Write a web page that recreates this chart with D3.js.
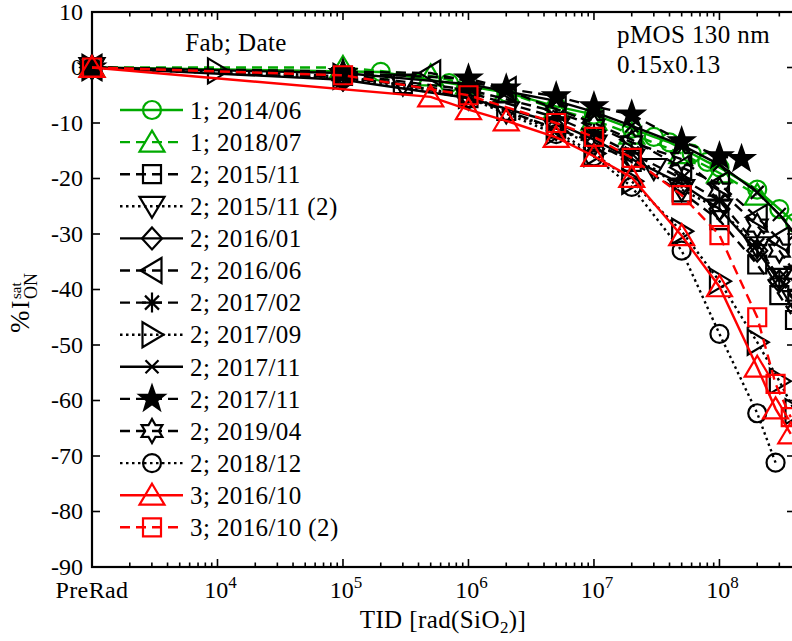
<!DOCTYPE html>
<html>
<head>
<meta charset="utf-8">
<script src="https://cdn.jsdelivr.net/npm/d3@7"></script>
<style>
  body { margin: 0; background: #fff; }
  text { font-family: "Liberation Serif", "DejaVu Serif", serif; fill: #000; }
</style>
</head>
<body>
<div id="chart"></div>
<script>
// PreRad is drawn at the 1e3 position of the log axis
const PRE = 1e3;

const xTickVals = [PRE, 1e4, 1e5, 1e6, 1e7, 1e8];
const xTickLabels = ["PreRad", "4", "5", "6", "7", "8"];
const yTickVals = [10, 0, -10, -20, -30, -40, -50, -60, -70, -80, -90];

const labels = ["1; 2014/06", "1; 2018/07", "2; 2015/11", "2; 2015/11 (2)", "2; 2016/01",
  "2; 2016/06", "2; 2017/02", "2; 2017/09", "2; 2017/11", "2; 2017/11", "2; 2019/04",
  "2; 2018/12", "3; 2016/10", "3; 2016/10 (2)"];
const colors = ["#00aa00", "#00aa00", "#000", "#000", "#000", "#000", "#000", "#000",
  "#000", "#000", "#000", "#000", "#ff0000", "#ff0000"];
const dashes = ["solid", "dash", "dash", "dot", "solid", "dash", "dash", "dot",
  "solid", "dash", "dash", "dot", "solid", "dash"];
const symbols = ["o", "^", "s", "v", "d", "<", "*", ">", "x", "p", "h", "o", "^", "s"];

// dose [rad(SiO2)] and %I_ON^sat for each run
const dose0 = [PRE, 2e5, 7e5, 2e6, 5e6, 1e7, 2e7, 3e7, 4e7, 6e7, 8e7, 1e8, 2e8, 3e8, 4e8];
const val0 = [0, -0.8, -2.8, -4.5, -7, -8.5, -11, -12.5, -13.5, -15.5, -17, -18, -22, -25.5, -28];
const dose1 = [PRE, 1e5, 5e5, 1e6, 2e6, 5e6, 1e7, 2e7, 5e7, 1e8, 2e8];
const val1 = [0, 0, -1.5, -3, -4.5, -7.5, -9.5, -12, -15.5, -19, -23];
const dose2 = [PRE, 1e5, 3e5, 1e6, 2e6, 5e6, 1e7, 2e7, 5e7, 1e8, 2e8, 3e8, 4e8];
const val2 = [0, -1.5, -3, -5.5, -7.8, -11, -13.5, -17, -22.5, -27.5, -35.5, -41, -45.5];
const dose3 = [PRE, 1e5, 3e5, 1e6, 2e6, 5e6, 1e7, 2e7, 3e7, 5e7, 1e8, 2e8, 3e8, 4e8];
const val3 = [0, -2, -3, -5.5, -8, -11, -14, -16.5, -18.2, -22, -25.5, -32.3, -38, -42];
const dose4 = [PRE, 1e5, 1e6, 5e6, 1e7, 2e7, 5e7, 1e8, 2e8, 3e8];
const val4 = [0, -2.2, -5.5, -10, -13, -16.5, -21, -25.5, -33, -38.5];
const dose5 = [PRE, 5e5, 2e6, 5e6, 1e7, 2e7, 5e7, 1e8, 2e8, 3e8];
const val5 = [0, -1, -4, -7.5, -10, -13, -18, -21, -27, -31];
const dose6 = [PRE, 1e5, 1e6, 5e6, 1e7, 2e7, 5e7, 1e8, 2e8, 3e8, 4e8];
const val6 = [0, -1.8, -4.5, -9, -12, -15.5, -20, -24, -32, -38, -42];
const dose7 = [PRE, 1e4, 1e5, 1e6, 5e6, 1e7, 2e7, 5e7, 1e8, 2e8, 3e8, 4e8];
const val7 = [0, -0.6, -1.6, -5, -11.5, -15.5, -20.5, -29.5, -38.5, -49.5, -56.5, -62];
const dose8 = [PRE, 1e5, 1e6, 5e6, 1e7, 2e7, 5e7, 1e8, 2e8, 3e8, 4e8];
const val8 = [0, -1, -3, -6, -8, -10.5, -14, -17.5, -22.5, -26.5, -30];
const dose9 = [PRE, 1e5, 1e6, 2e6, 5e6, 1e7, 2e7, 5e7, 1e8, 1.5e8];
const val9 = [0, -1, -2, -3.8, -5.2, -7, -8.5, -13.3, -16, -16.5];
const dose10 = [PRE, 1e5, 1e6, 5e6, 1e7, 2e7, 5e7, 1e8, 2e8, 3e8, 4e8];
const val10 = [0, -1.2, -4, -8, -10.5, -13.5, -16.5, -22, -28.5, -33, -37];
const dose11 = [PRE, 1e5, 1e6, 5e6, 1e7, 2e7, 5e7, 1e8, 2e8, 2.8e8];
const val11 = [0, -2, -5.5, -12, -16, -21.5, -33, -48, -62.3, -71.2];
const dose12 = [PRE, 5e5, 1e6, 2e6, 5e6, 1e7, 2e7, 5e7, 1e8, 2e8, 2.8e8, 3.7e8];
const val12 = [0, -5.3, -7.6, -9.6, -12.6, -16, -19.8, -30.3, -39.5, -54, -61.5, -66];
const dose13 = [PRE, 1e5, 1e6, 5e6, 1e7, 2e7, 5e7, 1e8, 2e8, 2.8e8, 3.7e8];
const val13 = [0, -1.4, -5, -10, -12.5, -16.3, -23, -30.2, -45, -57, -63];

const doses = [dose0, dose1, dose2, dose3, dose4, dose5, dose6, dose7, dose8, dose9, dose10, dose11, dose12, dose13];
const vals = [val0, val1, val2, val3, val4, val5, val6, val7, val8, val9, val10, val11, val12, val13];

const W = 792, H = 641;
const margin = {top: 12, right: -3, bottom: 74, left: 92};
const width = W - margin.left - margin.right;
const height = H - margin.top - margin.bottom;

const svg = d3.select("#chart").append("svg")
    .attr("width", W).attr("height", H)
    .style("display", "block");
const g = svg.append("g")
    .attr("transform", "translate(" + margin.left + "," + margin.top + ")");

const x = d3.scaleLog().domain([PRE, 4e8]).range([0, width]);
const y = d3.scaleLinear().domain([-90, 10]).range([height, 0]);

const dashArr = {solid: null, dash: "10,6", dot: "2.5,3.5"};
const FS = "25px", LS = "0.4px";

function poly(pts) {
    return "M" + pts.map(p => p[0] + "," + p[1]).join("L") + "Z";
}
function starPath(n, ro, ri) {
    const pts = [];
    for (let i = 0; i < 2 * n; i++) {
        const a = -Math.PI / 2 + i * Math.PI / n;
        const r = i % 2 ? ri : ro;
        pts.push([r * Math.cos(a), r * Math.sin(a)]);
    }
    return poly(pts);
}
const markers = {
    "o": d3.symbol(d3.symbolCircle, Math.PI * 81)(),
    "^": poly([[0, -11.5], [12.5, 9.5], [-12.5, 9.5]]),
    "v": poly([[0, 11.5], [12.5, -9.5], [-12.5, -9.5]]),
    "<": poly([[-11.5, 0], [9.5, -12.5], [9.5, 12.5]]),
    ">": poly([[11.5, 0], [-9.5, -12.5], [-9.5, 12.5]]),
    "s": poly([[-9, -9], [9, -9], [9, 9], [-9, 9]]),
    "d": poly([[0, -11], [10, 0], [0, 11], [-10, 0]]),
    "p": starPath(5, 13, 5.2),
    "h": starPath(6, 12, 6.9),
    "*": "M-10,0L10,0M0,-10L0,10M-7,-7L7,7M-7,7L7,-7",
    "x": "M-6.5,-6.5L6.5,6.5M-6.5,6.5L6.5,-6.5"
};

// axes: ticks point inward on all four sides
const minorX = [];
for (let e = 3; e < 9; e++) {
    for (let m = 2; m <= 9; m++) {
        const v = m * Math.pow(10, e);
        if (v <= 4e8) minorX.push(v);
    }
}
const axisG = g.append("g").attr("stroke", "#000").attr("stroke-width", 1.6);
[0, height].forEach(function(yy) {
    const dir = yy === 0 ? 1 : -1;
    axisG.selectAll(null).data(xTickVals.slice(1)).enter().append("line")
        .attr("x1", d => x(d)).attr("x2", d => x(d))
        .attr("y1", yy).attr("y2", yy + dir * 8);
    axisG.selectAll(null).data(minorX).enter().append("line")
        .attr("x1", d => x(d)).attr("x2", d => x(d))
        .attr("y1", yy).attr("y2", yy + dir * 4.5);
});
[0, width].forEach(function(xx) {
    const dir = xx === 0 ? 1 : -1;
    axisG.selectAll(null).data(yTickVals).enter().append("line")
        .attr("y1", d => y(d)).attr("y2", d => y(d))
        .attr("x1", xx).attr("x2", xx + dir * 8);
});
axisG.append("rect").attr("x", 0).attr("y", 0).attr("width", width).attr("height", height)
    .attr("fill", "none").attr("stroke-width", 2.2);

// tick labels
g.selectAll(".ylab").data(yTickVals).enter().append("text")
    .attr("x", -9).attr("y", d => y(d)).attr("dy", "0.33em")
    .attr("text-anchor", "end").style("font-size", "24px")
    .text(d => d);
const xl = g.selectAll(".xlab").data(xTickVals).enter().append("text")
    .attr("x", (d, i) => x(d) + (i ? 3 : 0)).attr("y", height + 31)
    .attr("text-anchor", "middle").style("font-size", "24px");
xl.each(function(d, i) {
    const t = d3.select(this);
    if (i === 0) { t.style("letter-spacing", LS).text(xTickLabels[i]); return; }
    t.append("tspan").text("10");
    t.append("tspan").attr("dy", -10).style("font-size", "17px").text(xTickLabels[i]);
});

// axis titles
const xt = g.append("text").attr("x", 443 - margin.left).attr("y", 628 - margin.top)
    .attr("text-anchor", "middle").style("font-size", FS).style("letter-spacing", LS);
xt.append("tspan").text("TID [rad(SiO");
xt.append("tspan").attr("dy", 5).style("font-size", "17px").text("2");
xt.append("tspan").attr("dy", -5).text(")]");

const yt = svg.append("g").attr("transform", "translate(29,333) rotate(-90)");
yt.append("text").attr("x", 0).attr("y", 0).style("font-size", "27px").text("%");
yt.append("text").attr("x", 24).attr("y", 0).style("font-size", "25px").text("I");
yt.append("text").attr("x", 34).attr("y", -8).style("font-size", "15px").text("sat");
yt.append("text").attr("x", 34).attr("y", 8).style("font-size", "18px").text("ON");

// series
const line = d3.line().x(d => x(d[0])).y(d => y(d[1]));
for (let i = 0; i < labels.length; i++) {
    const pts = doses[i].map((d, j) => [d, vals[i][j]]);
    const sg = g.append("g");
    sg.append("path").datum(pts)
        .attr("d", line)
        .attr("fill", "none")
        .attr("stroke", colors[i])
        .attr("stroke-width", 2.4)
        .attr("stroke-dasharray", dashArr[dashes[i]]);
    sg.selectAll("path.mk").data(pts).enter().append("path")
        .attr("class", "mk")
        .attr("transform", d => "translate(" + x(d[0]) + "," + y(d[1]) + ")")
        .attr("d", markers[symbols[i]])
        .attr("fill", symbols[i] === "p" ? colors[i] : "none")
        .attr("stroke", colors[i])
        .attr("stroke-width", 2.2);
}

// legend
const leg = svg.append("g");
leg.append("text").attr("x", 236).attr("y", 51).attr("text-anchor", "middle")
    .style("font-size", FS).style("letter-spacing", LS).text("Fab; Date");
labels.forEach(function(lab, i) {
    const ry = 110 + i * 32.1;
    leg.append("line").attr("x1", 120).attr("x2", 183).attr("y1", ry).attr("y2", ry)
        .attr("stroke", colors[i]).attr("stroke-width", 2.4)
        .attr("stroke-dasharray", dashArr[dashes[i]]);
    leg.append("path").attr("transform", "translate(152," + ry + ")")
        .attr("d", markers[symbols[i]])
        .attr("fill", symbols[i] === "p" ? colors[i] : "none")
        .attr("stroke", colors[i]).attr("stroke-width", 2.2);
    leg.append("text").attr("x", 190).attr("y", ry).attr("dy", "0.35em")
        .style("font-size", FS).style("letter-spacing", LS).text(lab);
});

// device annotation
svg.append("text").attr("x", 617).attr("y", 43).style("font-size", FS)
    .style("letter-spacing", LS).text("pMOS 130 nm");
svg.append("text").attr("x", 617).attr("y", 73).style("font-size", FS)
    .style("letter-spacing", LS).text("0.15x0.13");
</script>
</body>
</html>
